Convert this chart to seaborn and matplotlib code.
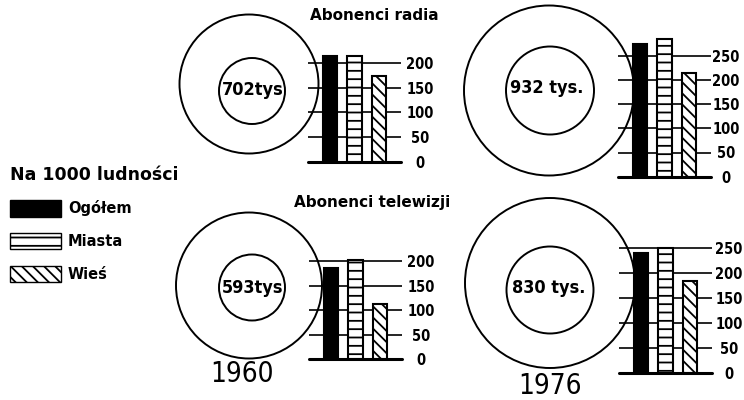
import matplotlib
matplotlib.use("Agg")
import matplotlib.pyplot as plt
import seaborn as sns
from matplotlib.patches import Circle, Patch

sns.set_theme(style="white")
plt.rcParams["font.family"] = ["DejaVu Sans"]
plt.rcParams["font.stretch"] = "condensed"
plt.rcParams["hatch.linewidth"] = 1.3
plt.rcParams["text.color"] = "black"
plt.rcParams["ytick.color"] = "black"
plt.rcParams["xtick.color"] = "black"

groups = ["Ogółem", "Miasta", "Wieś"]
radio_1960 = [213, 213, 174]
radio_1976 = [274, 284, 214]
tv_1960 = [185, 202, 112]
tv_1976 = [240, 250, 185]
circle_labels = ["702tys", "932 tys.", "593tys", "830 tys."]
years = ["1960", "1976"]
titles = ["Abonenci radia", "Abonenci telewizji"]

W, H = 744, 400
fig = plt.figure(figsize=(W / 100, H / 100), dpi=100)

# background axes in pixel units for circles and free text
ax0 = fig.add_axes([0, 0, 1, 1])
ax0.set_xlim(0, W)
ax0.set_ylim(H, 0)
ax0.axis("off")

# layout of each panel in pixels: bar axes left, zero line y, px per 50 units,
# outer circle, inner circle, label position, tick label pad
panels = [
    dict(vals=radio_1960, top=200, left=308, zero=162, px50=24.8,
         outer=(249, 84, 69.5), inner=(252, 91, 33), lab=(253, 90), pad=19),
    dict(vals=radio_1976, top=250, left=618, zero=176.7, px50=24.2,
         outer=(549, 90.5, 85), inner=(550, 90.5, 44), lab=(547, 88), pad=15),
    dict(vals=tv_1960, top=200, left=309, zero=359.3, px50=24.6,
         outer=(249, 285.5, 73), inner=(252, 287.5, 33), lab=(253, 288), pad=19),
    dict(vals=tv_1976, top=250, left=619, zero=372.7, px50=24.9,
         outer=(550, 283, 85), inner=(550, 290, 43.5), lab=(549, 288), pad=17),
]

hatches = [None, "--", "\\\\\\"]
bar_w_px, first_px, step_px = 93, 22, 24.5

for p, label in zip(panels, circle_labels):
    cx, cy, r = p["outer"]
    ax0.add_patch(Circle((cx, cy), r, fill=False, ec="black", lw=1.4))
    cx, cy, r = p["inner"]
    ax0.add_patch(Circle((cx, cy), r, fill=False, ec="black", lw=1.4))
    ax0.text(p["lab"][0], p["lab"][1], label, ha="center", va="center",
             fontsize=13, fontweight="bold")

    ymax = p["top"] + 40
    h_px = ymax * p["px50"] / 50
    ax = fig.add_axes([p["left"] / W, (H - p["zero"]) / H, bar_w_px / W, h_px / H])
    ax.patch.set_alpha(0)
    sns.barplot(x=groups, y=p["vals"], order=groups, ax=ax, color="white",
                saturation=1, edgecolor="black", linewidth=1.5, width=0.61)
    for bar, hatch in zip(ax.patches, hatches):
        if hatch is None:
            bar.set_facecolor("black")
        else:
            bar.set_hatch(hatch)
    ticks = list(range(0, p["top"] + 1, 50))
    for t in ticks[1:]:
        ax.axhline(t, color="black", lw=1.2, zorder=0.5)
    ax.axhline(0, color="black", lw=2.2, zorder=3, clip_on=False)
    ax.set_xlim(-first_px / step_px, (bar_w_px - first_px) / step_px)
    ax.set_ylim(0, ymax)
    ax.set_xticks([])
    ax.set_yticks(ticks)
    ax.yaxis.tick_right()
    ax.tick_params(axis="y", length=0, pad=p["pad"] * 0.72, colors="black")
    for tl in ax.get_yticklabels():
        tl.set_ha("center")
        tl.set_fontweight("bold")
        tl.set_fontsize(10.5)
    ax.set_xlabel("")
    ax.set_ylabel("")
    sns.despine(ax=ax, left=True, bottom=True, right=True, top=True)

ax0.text(374, 16, titles[0], ha="center", va="center", fontsize=11,
         fontweight="bold", fontstretch="normal")
ax0.text(372, 203, titles[1], ha="center", va="center", fontsize=11,
         fontweight="bold", fontstretch="normal")
ax0.text(242, 374, years[0], ha="center", va="center", fontsize=20)
ax0.text(550, 386, years[1], ha="center", va="center", fontsize=20)

handles = [Patch(facecolor="black", edgecolor="black"),
           Patch(facecolor="white", edgecolor="black", hatch=hatches[1]),
           Patch(facecolor="white", edgecolor="black", hatch=hatches[2])]
fig.legend(handles=handles, labels=groups, title="Na 1000 ludności",
           loc="upper left", bbox_to_anchor=(3 / W, 1 - 159 / H),
           frameon=False, borderpad=0, handlelength=3.5, handleheight=1.37,
           labelspacing=1.1, handletextpad=0.45, alignment="left",
           prop=dict(weight="bold", size=10.5, stretch="normal"),
           title_fontproperties=dict(weight="bold", size=12.5, stretch="normal"))

fig.savefig("out.png", dpi=100)
